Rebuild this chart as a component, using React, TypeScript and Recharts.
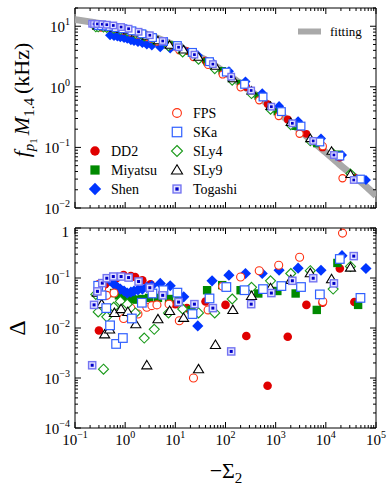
import React from "react";
import { ScatterChart, Scatter, XAxis, YAxis } from "recharts";

const SERIF = '"Liberation Serif", "DejaVu Serif", serif';

// each point: [-Sigma2, f_p1 M1.4 (kHz), Delta]
const DD2 = [
  [0.3, 10.1, 0.0089], [0.4, 9.9, 0.075], [0.52, 9.7, 0.085], [0.68, 9.3, 0.1],
  [0.93, 8.9, 0.114], [1.3, 8.3, 0.11], [1.58, 7.9, 0.105], [2.2, 7.3, 0.09],
  [3.2, 6.6, 0.075], [5.5, 5.4, 0.05], [10, 4.6, 0.03], [17, 3.9, 0.025],
  [40, 2.7, 0.034], [100, 1.68, 0.029], [260, 0.99, 0.0069], [690, 0.52, 0.0007],
  [1740, 0.29, 0.0067], [4100, 0.168, 0.029], [8600, 0.1, 0.032], [19000, 0.068, 0.155],
  [37000, 0.032, 0.033],
];
const MIYATSU = [
  [0.6, 9.3, 0.05], [0.75, 9.0, 0.045], [0.9, 8.7, 0.042], [1.1, 8.4, 0.04],
  [1.35, 8.0, 0.038], [1.7, 7.6, 0.037], [2.2, 7.1, 0.038], [3.0, 6.5, 0.04],
  [4.5, 5.7, 0.04], [7.5, 4.9, 0.038], [11.7, 4.5, 0.036], [21, 3.6, 0.023],
  [43, 2.6, 0.057], [86, 1.84, 0.072], [200, 1.13, 0.057], [450, 0.7, 0.049],
  [1080, 0.39, 0.055], [2500, 0.224, 0.049], [6600, 0.116, 0.023], [17000, 0.077, 0.2],
  [44000, 0.03, 0.029],
];
const SHEN = [
  [0.5, 7.1, 0.09], [0.6, 6.9, 0.075], [0.7, 6.8, 0.065], [0.8, 6.6, 0.06],
  [0.95, 6.4, 0.055], [1.1, 6.2, 0.05], [1.3, 5.9, 0.052], [1.5, 5.7, 0.055],
  [1.8, 5.5, 0.058], [2.2, 5.3, 0.06], [2.7, 5.0, 0.065], [3.4, 4.8, 0.07],
  [5.0, 4.5, 0.078], [7.9, 4.3, 0.07], [14.7, 4.0, 0.042], [28, 3.3, 0.011],
  [54, 2.55, 0.088], [117, 1.8, 0.114], [250, 1.22, 0.123], [540, 0.78, 0.123],
  [1170, 0.48, 0.143], [2800, 0.27, 0.157], [8000, 0.14, 0.143], [21000, 0.075, 0.28],
  [63000, 0.029, 0.155],
];
const FPS = [
  [0.3, 9.6, 0.075], [0.34, 9.5, 0.062], [0.43, 9.4, 0.045], [0.6, 9.1, 0.05],
  [0.93, 8.5, 0.0155], [1.3, 7.9, 0.025], [1.8, 7.3, 0.019], [2.7, 6.6, 0.026],
  [3.4, 6.2, 0.028], [4.3, 5.6, 0.029], [7.5, 4.7, 0.03], [12, 4.0, 0.014],
  [23, 3.1, 0.001], [45, 2.3, 0.023], [88, 1.6, 0.068], [200, 0.98, 0.105],
  [470, 0.6, 0.14], [1150, 0.33, 0.18], [3000, 0.168, 0.26], [8700, 0.105, 0.034],
  [21500, 0.031, 0.79],
];
const SKA = [
  [0.29, 10.3, 0.07], [0.34, 10.2, 0.045], [0.42, 10.1, 0.025], [0.5, 9.9, 0.0113],
  [0.66, 9.5, 0.0048], [0.9, 9.1, 0.0063], [1.36, 8.4, 0.0155], [2.15, 7.5, 0.032],
  [3.5, 6.5, 0.049], [5.8, 5.6, 0.057], [11, 4.8, 0.051], [22, 3.7, 0.019],
  [48, 2.6, 0.039], [104, 1.75, 0.066], [240, 1.1, 0.057], [560, 0.68, 0.06],
  [1300, 0.39, 0.069], [3200, 0.225, 0.066], [7600, 0.123, 0.047], [19000, 0.072, 0.24],
  [49000, 0.03, 0.04],
];
const SLY4 = [
  [0.26, 9.6, 0.047], [0.29, 9.6, 0.021], [0.37, 9.5, 0.0015], [0.43, 9.4, 0.0167],
  [0.59, 9.1, 0.026], [0.8, 8.7, 0.034], [1.1, 8.2, 0.03], [1.6, 7.5, 0.02],
  [2.4, 6.8, 0.0063], [3.8, 5.9, 0.0094], [7.3, 4.7, 0.02], [14, 3.7, 0.024],
  [29, 2.8, 0.02], [61, 1.96, 0.02], [136, 1.26, 0.038], [330, 0.76, 0.065],
  [790, 0.42, 0.088], [2000, 0.233, 0.123], [4900, 0.126, 0.14], [14000, 0.08, 0.06],
  [31000, 0.037, 0.17],
];
const SLY9 = [
  [0.28, 10.1, 0.051], [0.34, 10.0, 0.03], [0.39, 9.9, 0.0075], [0.49, 9.7, 0.0094],
  [0.61, 9.5, 0.02], [0.83, 9.0, 0.024], [1.13, 8.5, 0.021], [1.63, 7.8, 0.0119],
  [2.7, 6.9, 0.0018], [4.5, 5.8, 0.015], [7.7, 4.9, 0.022], [14.6, 4.1, 0.016],
  [29, 3.1, 0.0015], [63, 2.2, 0.0046], [140, 1.37, 0.023], [330, 0.86, 0.044],
  [790, 0.48, 0.063], [2000, 0.26, 0.092], [4900, 0.141, 0.125], [13000, 0.087, 0.095],
  [31000, 0.036, 0.162],
];
const TOGASHI = [
  [0.22, 11.0, 0.0018], [0.24, 10.9, 0.029], [0.28, 10.9, 0.054], [0.35, 10.8, 0.079],
  [0.43, 10.6, 0.099], [0.58, 10.3, 0.107], [0.83, 9.7, 0.107], [1.17, 9.1, 0.102],
  [1.85, 8.1, 0.085], [3.1, 7.1, 0.064], [5.6, 5.7, 0.045], [11.6, 4.5, 0.033],
  [24, 3.4, 0.03], [56, 2.37, 0.025], [130, 1.47, 0.0034], [325, 0.87, 0.03],
  [820, 0.47, 0.05], [2150, 0.25, 0.088], [5600, 0.128, 0.099], [14500, 0.075, 0.078],
  [36000, 0.029, 0.274],
];

// fitting curve
const FIT_X = [0.1, 0.2, 0.5, 1, 2, 5, 10, 20, 50, 100, 200, 500, 1000, 2000, 5000, 1e4, 2e4, 5e4, 1e5];
const FIT_F = [12.9, 11.8, 10.4, 9.2, 8.0, 6.1, 4.8, 3.7, 2.5, 1.7, 1.12, 0.64, 0.41, 0.255, 0.134, 0.083, 0.05, 0.027, 0.016];

const X_MAJOR = [0.1, 1, 10, 100, 1e3, 1e4, 1e5];
const TOP_Y_MAJOR = [0.01, 0.1, 1, 10];
const BOT_Y_MAJOR = [1e-4, 1e-3, 1e-2, 0.1, 1];

const SERIES = [
  { name: "DD2", kind: "dd2", data: DD2 },
  { name: "Miyatsu", kind: "miy", data: MIYATSU },
  { name: "Shen", kind: "shen", data: SHEN },
  { name: "FPS", kind: "fps", data: FPS },
  { name: "SLy4", kind: "sly4", data: SLY4 },
  { name: "SLy9", kind: "sly9", data: SLY9 },
  { name: "SKa", kind: "ska", data: SKA },
  { name: "Togashi", kind: "tog", data: TOGASHI },
];

const LEGEND_LEFT = [["dd2", "DD2"], ["miy", "Miyatsu"], ["shen", "Shen"]];
const LEGEND_RIGHT = [["fps", "FPS"], ["ska", "SKa"], ["sly4", "SLy4"], ["sly9", "SLy9"], ["tog", "Togashi"]];

function withMinor(majors: number[], top: number) {
  const out: number[] = [];
  majors.forEach((m) => {
    for (let k = 1; k < 10; k++) {
      const v = m * k;
      if (v <= top * 1.0001) out.push(v);
    }
  });
  return out;
}

const X_TICKS = withMinor(X_MAJOR, 1e5);
const TOP_Y_TICKS = withMinor(TOP_Y_MAJOR, 20);
const BOT_Y_TICKS = withMinor(BOT_Y_MAJOR, 1);

function Mark({ kind, cx, cy, k = 1 }: { kind: string; cx?: number; cy?: number; k?: number }) {
  if (cx == null || cy == null) return null;
  switch (kind) {
    case "dd2":
      return <circle cx={cx} cy={cy} r={4.3 * k} fill="#e00000" />;
    case "miy": {
      const h = 4.2 * k;
      return <rect x={cx - h} y={cy - h} width={2 * h} height={2 * h} fill="#008a00" />;
    }
    case "shen": {
      const h = 5.6 * k;
      return <polygon points={`${cx},${cy - h} ${cx + h},${cy} ${cx},${cy + h} ${cx - h},${cy}`} fill="#0035ff" />;
    }
    case "fps":
      return <circle cx={cx} cy={cy} r={4 * k} fill="#fff" stroke="#ff3010" strokeWidth={1.1} />;
    case "ska": {
      const h = 4.3 * k;
      return <rect x={cx - h} y={cy - h} width={2 * h} height={2 * h} fill="#fff" stroke="#3060ff" strokeWidth={1.2} />;
    }
    case "sly4": {
      const h = 5 * k;
      return (
        <polygon points={`${cx},${cy - h} ${cx + h},${cy} ${cx},${cy + h} ${cx - h},${cy}`} fill="#fff" stroke="#1a9a1a" strokeWidth={1.1} />
      );
    }
    case "sly9": {
      const h = 4.8 * k;
      return (
        <polygon points={`${cx},${cy - h} ${cx + h * 1.05},${cy + h * 0.75} ${cx - h * 1.05},${cy + h * 0.75}`} fill="#fff" stroke="#000" strokeWidth={1.1} />
      );
    }
    case "tog": {
      const h = 3.6 * k;
      const i = 1.5 * k;
      return (
        <g>
          <rect x={cx - h} y={cy - h} width={2 * h} height={2 * h} fill="#e4e4ff" stroke="#7474f2" strokeWidth={1.4} />
          <rect x={cx - i} y={cy - i} width={2 * i} height={2 * i} fill="#0000c8" />
        </g>
      );
    }
    default:
      return null;
  }
}

function PowText({ x, y, e, anchor }: { x: number; y: number; e: number; anchor: string }) {
  const s = e < 0 ? "\u2212" + Math.abs(e) : String(e);
  return (
    <text x={x} y={y} textAnchor={anchor} fontFamily={SERIF} fontSize={15} fill="#000">
      10<tspan dy={-7} fontSize={10}>{s}</tspan>
    </text>
  );
}

type Side = "bottom" | "top" | "left" | "right";

function makeTick(side: Side, mode: "none" | "pow" | "powOne") {
  return function Tick(props: any) {
    const { x, y, payload } = props;
    const v = Number(payload.value);
    const lg = Math.log10(v);
    const e = Math.round(lg);
    const major = Math.abs(lg - e) < 1e-6;
    const len = major ? 6 : 3;
    const d = { bottom: [0, -len], top: [0, len], left: [len, 0], right: [-len, 0] }[side];
    let label: React.ReactNode = null;
    if (major && mode !== "none") {
      if (side === "bottom") label = <PowText x={x} y={y + 17} e={e} anchor="middle" />;
      if (side === "left") {
        label =
          mode === "powOne" && e === 0 ? (
            <text x={x - 6} y={y + 9} textAnchor="end" fontFamily={SERIF} fontSize={15} fill="#000">1</text>
          ) : (
            <PowText x={x - 5} y={y + 6} e={e} anchor="end" />
          );
      }
    }
    return (
      <g>
        <line x1={x} y1={y} x2={x + d[0]} y2={y + d[1]} stroke="#000" strokeWidth={1} />
        {label}
      </g>
    );
  };
}

const AX = { stroke: "#000", strokeWidth: 1 };

function axes(yDomain: number[], yTicks: number[], yMode: "pow" | "powOne", xLabels: boolean, bottomH: number) {
  const common = { type: "number" as const, scale: "log" as const, allowDataOverflow: true, interval: 0 as const, tickLine: false, tickSize: 0, tickMargin: 0, axisLine: AX };
  return [
    <XAxis key="xb" dataKey="x" {...common} domain={[0.1, 1e5]} ticks={X_TICKS} height={bottomH} tick={makeTick("bottom", xLabels ? "pow" : "none")} />,
    <XAxis key="xt" xAxisId="t" orientation="top" dataKey="x" {...common} domain={[0.1, 1e5]} ticks={X_TICKS} height={2} tick={makeTick("top", "none")} />,
    <YAxis key="yl" dataKey="y" {...common} domain={yDomain} ticks={yTicks} width={60} tick={makeTick("left", yMode)} />,
    <YAxis key="yr" yAxisId="r" orientation="right" dataKey="y" {...common} domain={yDomain} ticks={yTicks} width={2} tick={makeTick("right", "none")} />,
  ];
}

function TopPanel() {
  const fit = FIT_X.map((x, i) => ({ x, y: FIT_F[i] }));
  const rowY = (i: number) => 113 + 19 * i;
  return (
    <ScatterChart width={389} height={216} margin={{ top: 6, right: 11, bottom: 6, left: 15 }}>
      {axes([0.01, 20], TOP_Y_TICKS, "pow", false, 2)}
      <Scatter
        name="fitting"
        data={fit}
        line={{ stroke: "#a9a9a9", strokeWidth: 7 }}
        lineJointType="monotoneX"
        shape={() => <g />}
        isAnimationActive={false}
      />
      {SERIES.map((s) => (
        <Scatter
          key={s.name}
          name={s.name}
          data={s.data.map((p) => ({ x: p[0], y: p[1] }))}
          shape={(p: any) => <Mark kind={s.kind} cx={p.cx} cy={p.cy} k={0.9} />}
          isAnimationActive={false}
        />
      ))}
      <g>
        <line x1={298} x2={321} y1={31.5} y2={31.5} stroke="#a9a9a9" strokeWidth={6} />
        <text x={330} y={36} fontFamily={SERIF} fontSize={13} fill="#000">fitting</text>
        {LEGEND_LEFT.map(([k, t], i) => (
          <g key={t}>
            <Mark kind={k} cx={95} cy={rowY(i + 2)} k={1.1} />
            <text x={111} y={rowY(i + 2) + 5} fontFamily={SERIF} fontSize={14} fill="#000">{t}</text>
          </g>
        ))}
        {LEGEND_RIGHT.map(([k, t], i) => (
          <g key={t}>
            <Mark kind={k} cx={177} cy={rowY(i)} k={1.1} />
            <text x={193} y={rowY(i) + 5} fontFamily={SERIF} fontSize={14} fill="#000">{t}</text>
          </g>
        ))}
        <text transform="translate(29,100) rotate(-90)" textAnchor="middle" fontFamily={SERIF} fontSize={22} fill="#000">
          <tspan fontStyle="italic">f</tspan>
          <tspan fontStyle="italic" fontSize={15} dy={5}>p</tspan>
          <tspan fontSize={11} dy={3}>1</tspan>
          <tspan fontStyle="italic" dy={-8} dx={3}>M</tspan>
          <tspan fontSize={15} dy={5}>1.4</tspan>
          <tspan dy={-5} dx={4}>(kHz)</tspan>
        </text>
      </g>
    </ScatterChart>
  );
}

function BottomPanel() {
  return (
    <ScatterChart width={389} height={272} margin={{ top: 10, right: 11, bottom: 20, left: 15 }}>
      {axes([1e-4, 1], BOT_Y_TICKS, "powOne", true, 40)}
      {SERIES.map((s) => (
        <Scatter
          key={s.name}
          name={s.name}
          data={s.data.map((p) => ({ x: p[0], y: p[2] }))}
          shape={(p: any) => <Mark kind={s.kind} cx={p.cx} cy={p.cy} k={1} />}
          isAnimationActive={false}
        />
      ))}
      <g>
        <text transform="translate(25,112) rotate(-90)" textAnchor="middle" fontFamily={SERIF} fontSize={24} fill="#000">
          {"\u0394"}
        </text>
        <text x={226} y={262} textAnchor="middle" fontFamily={SERIF} fontSize={22} fill="#000">
          {"\u2212\u03a3"}
          <tspan fontSize={15} dy={5}>2</tspan>
        </text>
      </g>
    </ScatterChart>
  );
}

export default function App() {
  return (
    <div style={{ position: "absolute", left: 0, top: 0, width: 389, height: 488, background: "#fff" }}>
      <div style={{ position: "absolute", left: 0, top: 0 }}>
        <TopPanel />
      </div>
      <div style={{ position: "absolute", left: 0, top: 216 }}>
        <BottomPanel />
      </div>
    </div>
  );
}
